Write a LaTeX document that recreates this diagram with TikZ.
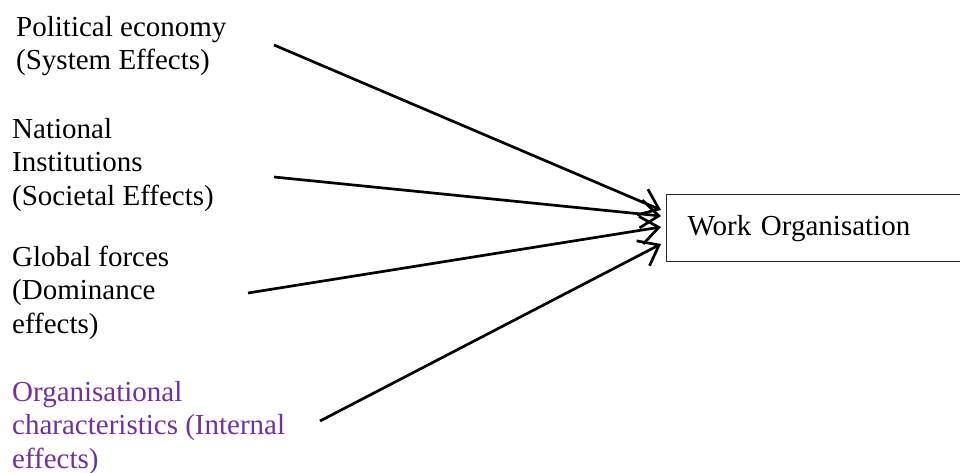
\documentclass[tikz,border=0pt]{standalone}
\usepackage{fontspec}
\setmainfont{Liberation Serif}
\usetikzlibrary{arrows.meta}
\definecolor{wordpurple}{RGB}{112,48,160}
\tikzset{
  lbl/.style={anchor=base west, align=left, inner sep=0pt, font=\fontsize{29}{33.5}\selectfont},
  conn/.style={line width=2.7pt, -{Straight Barb[length=18pt,width=28pt,line width=2.7pt]}},
  workbox/.style={draw=black!85, line width=1.2pt, anchor=north west, minimum height=67pt,
    text width=262pt, inner xsep=21pt, inner ysep=0pt, align=left, font=\fontsize{29}{33.5}\selectfont}
}
\begin{document}
\begin{tikzpicture}[x=1pt,y=-1pt]
\useasboundingbox (0,0) rectangle (960,473);
\clip (0,0) rectangle (960,473);
\node[lbl] (pol) at (16,70) {Political economy\\(System Effects)};
\node[lbl] (nat) at (12,205) {National\\Institutions\\(Societal Effects)};
\node[lbl] (glo) at (12,333) {Global forces\\(Dominance\\effects)};
\node[lbl, text=wordpurple] (org) at (12,468) {Organisational\\characteristics (Internal\\effects)};
\node[workbox] (work) at (666,194) {Work Organisation};
\coordinate (s1) at (274,45);
\coordinate (s2) at (274,177);
\coordinate (s3) at (248,293);
\coordinate (s4) at (320,421);
\coordinate (t1) at (661,210);
\coordinate (t2) at (661,216);
\coordinate (t3) at (661,227);
\coordinate (t4) at (661,244);
\draw[conn] (s1) -- (t1);
\draw[conn] (s2) -- (t2);
\draw[conn] (s3) -- (t3);
\draw[conn] (s4) -- (t4);
\end{tikzpicture}
\end{document}
